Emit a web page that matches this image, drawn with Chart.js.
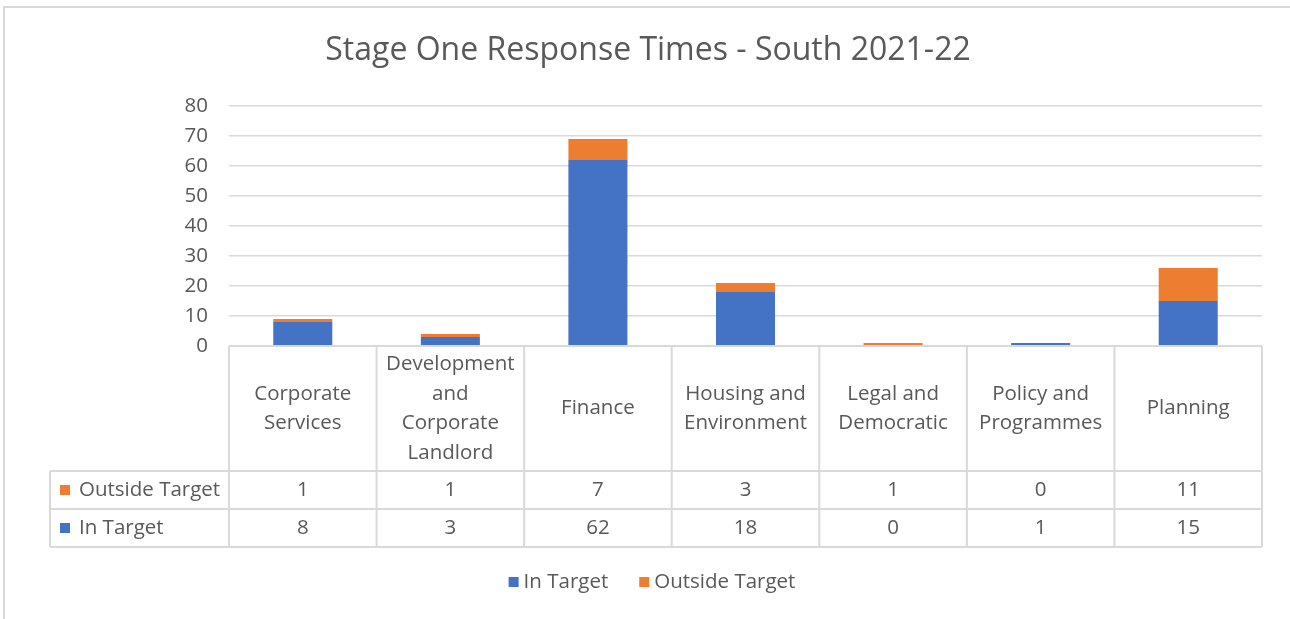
<!DOCTYPE html>
<html>
<head>
<meta charset="utf-8">
<script src="https://cdn.jsdelivr.net/npm/chart.js@4.4.1/dist/chart.umd.min.js"></script>
<style>
  html, body { margin: 0; padding: 0; background: #fff; }
  #wrap { width: 1290px; height: 619px; position: relative; }
</style>
</head>
<body>
<div id="wrap"><canvas id="c" width="1290" height="619"></canvas></div>
<script>
const title = 'Stage One Response Times - South 2021-22';
const categories = [
  ['Corporate', 'Services'],
  ['Development', 'and', 'Corporate', 'Landlord'],
  ['Finance'],
  ['Housing and', 'Environment'],
  ['Legal and', 'Democratic'],
  ['Policy and', 'Programmes'],
  ['Planning']
];
const inTarget = [8, 3, 62, 18, 0, 1, 15];
const outsideTarget = [1, 1, 7, 3, 1, 0, 11];
const yTicks = [0, 10, 20, 30, 40, 50, 60, 70, 80];

const BLUE = '#4472C4', ORANGE = '#ED7D31', TEXT = '#595959', GRID = '#D9D9D9';
const FONT = '"Open Sans", Lato, sans-serif';

const tablePlugin = {
  id: 'tablePlugin',
  beforeDraw(chart) {
    const ctx = chart.ctx;
    ctx.save();
    ctx.fillStyle = '#fff';
    ctx.fillRect(0, 0, chart.width, chart.height);
    ctx.strokeStyle = '#D9D9D9';
    ctx.lineWidth = 2;
    ctx.beginPath();
    ctx.moveTo(4, chart.height);
    ctx.lineTo(4, 7);
    ctx.lineTo(chart.width, 7);
    ctx.stroke();
    ctx.fillStyle = TEXT;
    ctx.font = '32px ' + FONT;
    ctx.textAlign = 'center';
    ctx.textBaseline = 'middle';
    ctx.fillText(title, 648, 51);
    ctx.restore();
  },
  afterDraw(chart) {
    const ctx = chart.ctx;
    const x = chart.scales.x;
    const area = chart.chartArea;
    const n = categories.length;
    const cw = (area.right - area.left) / n;
    const top = area.bottom;
    const hdrBottom = top + 125;
    const r1Bottom = hdrBottom + 38;
    const r2Bottom = r1Bottom + 38;
    const labLeft = 50;
    ctx.save();
    ctx.strokeStyle = GRID;
    ctx.lineWidth = 2;
    ctx.beginPath();
    ctx.moveTo(area.left, top); ctx.lineTo(area.right, top);
    [hdrBottom, r1Bottom, r2Bottom].forEach(yy => { ctx.moveTo(labLeft, yy); ctx.lineTo(area.right, yy); });
    for (let i = 0; i <= n; i++) {
      const xx = area.left + i * cw;
      ctx.moveTo(xx, top); ctx.lineTo(xx, r2Bottom);
    }
    ctx.moveTo(labLeft, hdrBottom); ctx.lineTo(labLeft, r2Bottom);
    ctx.stroke();

    ctx.fillStyle = TEXT;
    ctx.font = '20.5px ' + FONT;
    ctx.textAlign = 'center';
    ctx.textBaseline = 'middle';
    const lh = 29.5;
    const hc = (top + hdrBottom) / 2;
    categories.forEach((lines, i) => {
      const cx = x.getPixelForValue(i);
      const y0 = hc - (lines.length - 1) * lh / 2;
      lines.forEach((t, j) => ctx.fillText(t, cx, y0 + j * lh));
      ctx.fillText(String(outsideTarget[i]), cx, (hdrBottom + r1Bottom) / 2);
      ctx.fillText(String(inTarget[i]), cx, (r1Bottom + r2Bottom) / 2);
    });
    const rows = [
      { label: chart.data.datasets[1].label, color: ORANGE, y: (hdrBottom + r1Bottom) / 2 },
      { label: chart.data.datasets[0].label, color: BLUE, y: (r1Bottom + r2Bottom) / 2 }
    ];
    ctx.textAlign = 'left';
    rows.forEach(r => {
      ctx.fillStyle = r.color;
      ctx.fillRect(60, r.y - 5, 10, 10);
      ctx.fillStyle = TEXT;
      ctx.fillText(r.label, 79, r.y);
    });
    const ly = 582;
    const widths = chart.data.datasets.map(ds => 15 + ctx.measureText(ds.label).width);
    const gap = 31;
    const total = widths.reduce((a, b) => a + b, 0) + gap * (widths.length - 1);
    let lx = 652 - total / 2;
    chart.data.datasets.forEach((ds, i) => {
      ctx.fillStyle = ds.backgroundColor;
      ctx.fillRect(lx, ly - 5, 10, 10);
      ctx.fillStyle = TEXT;
      ctx.fillText(ds.label, lx + 15, ly);
      lx += widths[i] + gap;
    });
    ctx.restore();
  }
};

new Chart(document.getElementById('c'), {
  type: 'bar',
  data: {
    labels: categories.map(c => c.join(' ')),
    datasets: [
      { label: 'In Target', data: inTarget, backgroundColor: BLUE, stack: 's' },
      { label: 'Outside Target', data: outsideTarget, backgroundColor: ORANGE, stack: 's' }
    ]
  },
  options: {
    responsive: false,
    animation: false,
    events: [],
    layout: { padding: { left: 0, right: 28, top: 106, bottom: 273 } },
    plugins: { legend: { display: false }, title: { display: false }, tooltip: { enabled: false } },
    datasets: { bar: { categoryPercentage: 1, barPercentage: 0.4 } },
    scales: {
      x: { stacked: true, display: false },
      y: {
        stacked: true,
        min: 0, max: 80,
        afterBuildTicks: s => { s.ticks = yTicks.map(v => ({ value: v })); },
        afterFit: s => { s.width = 229; },
        border: { display: false },
        grid: { color: GRID, lineWidth: 1.5, drawTicks: false },
        ticks: { color: TEXT, font: { family: FONT, size: 20.5 }, padding: 21 }
      }
    }
  },
  plugins: [tablePlugin]
});
</script>
</body>
</html>
